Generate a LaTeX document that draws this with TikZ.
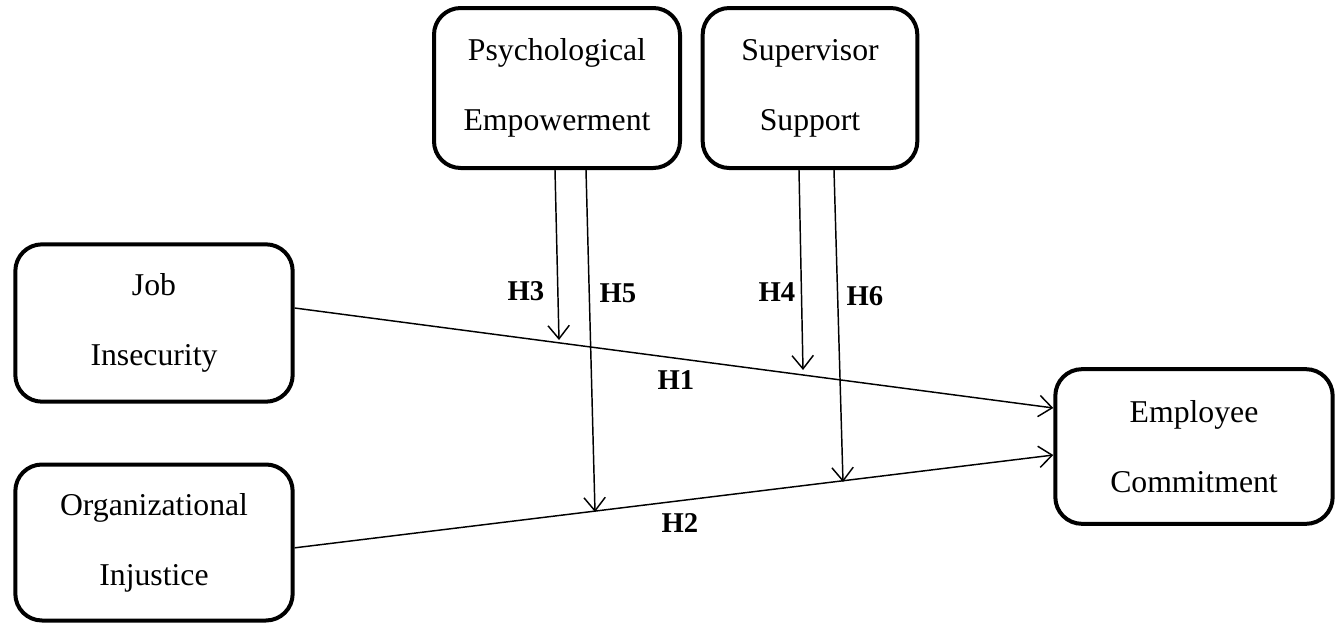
\documentclass[tikz,border=0pt]{standalone}
\usepackage{fontspec}
\setmainfont{Liberation Serif}
\usetikzlibrary{arrows.meta}
\begin{document}
\begin{tikzpicture}[x=0.75pt,y=-0.75pt,
  box/.style={draw,line width=3pt,rounded corners=20pt,align=center,inner sep=0pt,
    font=\fontsize{23.8}{52.5}\selectfont},
  arr/.style={line width=1.1pt,-{Straight Barb[length=10pt,width=16pt,line width=1.1pt]}},
  hlab/.style={font=\fontsize{21.5}{24}\selectfont\bfseries,inner sep=0pt}]
\useasboundingbox (0,0) rectangle (1340,625);
\node[box,minimum width=184.5pt,minimum height=120pt] (psych) at (557,88) {Psychological\\Empowerment};
\node[box,minimum width=161pt,minimum height=120pt] (sup) at (810,88) {Supervisor\\Support};
\node[box,minimum width=208pt,minimum height=118pt] (job) at (154,323) {Job\\Insecurity};
\node[box,minimum width=208pt,minimum height=117pt] (org) at (154,542.5) {Organizational\\Injustice};
\node[box,minimum width=208pt,minimum height=116pt] (emp) at (1194,446.5) {Employee\\Commitment};
\coordinate (t3) at (559,340);
\coordinate (t5) at (595,512);
\coordinate (t4) at (803,370);
\coordinate (t6) at (843,482);
\draw[arr] ([yshift=11.25pt]job.east) -- ([yshift=28.9pt]emp.west);
\draw[arr] ([yshift=-4pt]org.east) -- ([yshift=-6.4pt]emp.west);
\draw[arr] ([xshift=-1.5pt]psych.south) -- (t3);
\draw[arr] ([xshift=21.75pt]psych.south) -- (t5);
\draw[arr] ([xshift=-8.25pt]sup.south) -- (t4);
\draw[arr] ([xshift=18pt]sup.south) -- (t6);
\node[hlab] (h3) at (526,291) {H3};
\node[hlab] (h5) at (618,293) {H5};
\node[hlab] (h4) at (777,292) {H4};
\node[hlab] (h6) at (865,296) {H6};
\node[hlab] (h1) at (676,380) {H1};
\node[hlab] (h2) at (680,523) {H2};
\end{tikzpicture}
\end{document}
